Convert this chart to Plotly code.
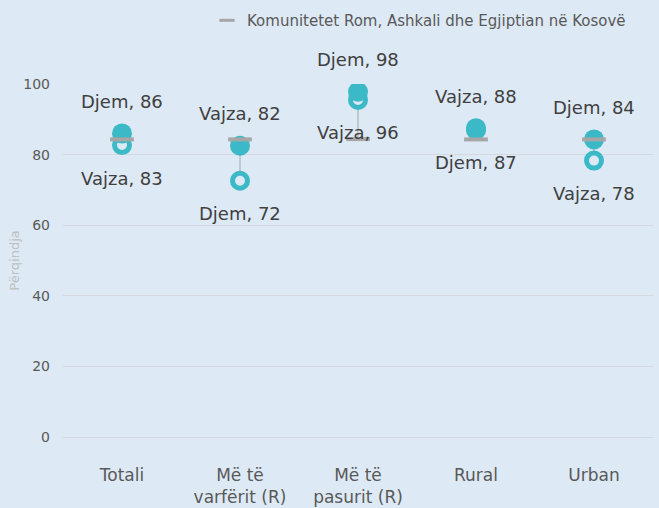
import plotly.graph_objects as go

categories = ["Totali", "Më të<br>varfërit (R)", "Më të<br>pasurit (R)", "Rural", "Urban"]
upper_values = [86, 82.5, 97.8, 87.5, 84.3]
upper_labels = ["Djem, 86", "Vajza, 82", "Djem, 98", "Vajza, 88", "Djem, 84"]
lower_values = [82.7, 72.6, 95.5, 87, 78.3]
lower_labels = ["Vajza, 83", "Djem, 72", "Vajza, 96", "Djem, 87", "Vajza, 78"]
community_values = [84.3, 84.3, 84.4, 84.3, 84.3]
community_name = "Komunitetet Rom, Ashkali dhe Egjiptian në Kosovë"

BG = "#dde9f5"
TEAL = "#3bb9c7"
GRAY = "#a6a6a6"
FONT = "DejaVu Sans, Verdana, sans-serif"

fig = go.Figure()

# high-low connecting lines
lx, ly = [], []
for c, a, b, r in zip(categories, upper_values, lower_values, community_values):
    lx += [c, c, None]
    ly += [min(a, b, r), max(a, b, r), None]
fig.add_trace(go.Scatter(x=lx, y=ly, mode="lines", line=dict(color=GRAY, width=1),
                         showlegend=False, hoverinfo="skip"))

fig.add_trace(go.Scatter(x=categories, y=lower_values, mode="markers", showlegend=False,
                         marker=dict(symbol="circle", size=15, color=BG,
                                     line=dict(color=TEAL, width=5))))
fig.add_trace(go.Scatter(x=categories, y=upper_values, mode="markers", showlegend=False,
                         marker=dict(symbol="circle", size=20, color=TEAL,
                                     line=dict(width=0))))
fig.add_trace(go.Scatter(x=categories, y=community_values, mode="markers", name=community_name,
                         showlegend=False,
                         marker=dict(symbol="line-ew", size=17, color=GRAY,
                                     line=dict(color=GRAY, width=4))))
# legend entry (smaller symbol, as in the reference legend)
fig.add_trace(go.Scatter(x=[None], y=[None], mode="markers", name=community_name,
                         marker=dict(symbol="line-ew", size=11, color=GRAY,
                                     line=dict(color=GRAY, width=3))))

for c, v, t in zip(categories, upper_values, upper_labels):
    fig.add_annotation(x=c, y=v, text=t, showarrow=False, yshift=32,
                       font=dict(family=FONT, size=18, color="#404040"))
for c, v, t in zip(categories, lower_values, lower_labels):
    fig.add_annotation(x=c, y=v, text=t, showarrow=False, yshift=-33,
                       font=dict(family=FONT, size=18, color="#404040"))

fig.update_layout(
    width=659, height=508,
    paper_bgcolor=BG, plot_bgcolor=BG,
    margin=dict(l=63, r=6, t=84, b=71),
    font=dict(family=FONT, color="#595959"),
    showlegend=True,
    legend=dict(orientation="h", x=631 / 659, xanchor="right", y=0.992, yanchor="top",
                yref="container", xref="container",
                bgcolor="rgba(0,0,0,0)", font=dict(size=15, color="#595959"),
                itemwidth=30),
)
fig.update_xaxes(range=[-0.5, 4.5], showgrid=False, showline=False, zeroline=False,
                 automargin=False,
                 tickfont=dict(size=17, color="#595959"), ticklabelstandoff=26)
fig.update_yaxes(range=[0, 100], dtick=20, showgrid=True, gridcolor="#d4d9de", gridwidth=1,
                 zeroline=True, zerolinecolor="#d4d9de", zerolinewidth=1, showline=False,
                 automargin=False,
                 tickfont=dict(size=14, color="#595959"), ticklabelstandoff=12,
                 title=dict(text="Përqindja", font=dict(size=13, color="#bfbfbf"), standoff=0))

fig.write_html("out.html", config={"displayModeBar": False},
               post_script="document.body.style.margin='0';")
